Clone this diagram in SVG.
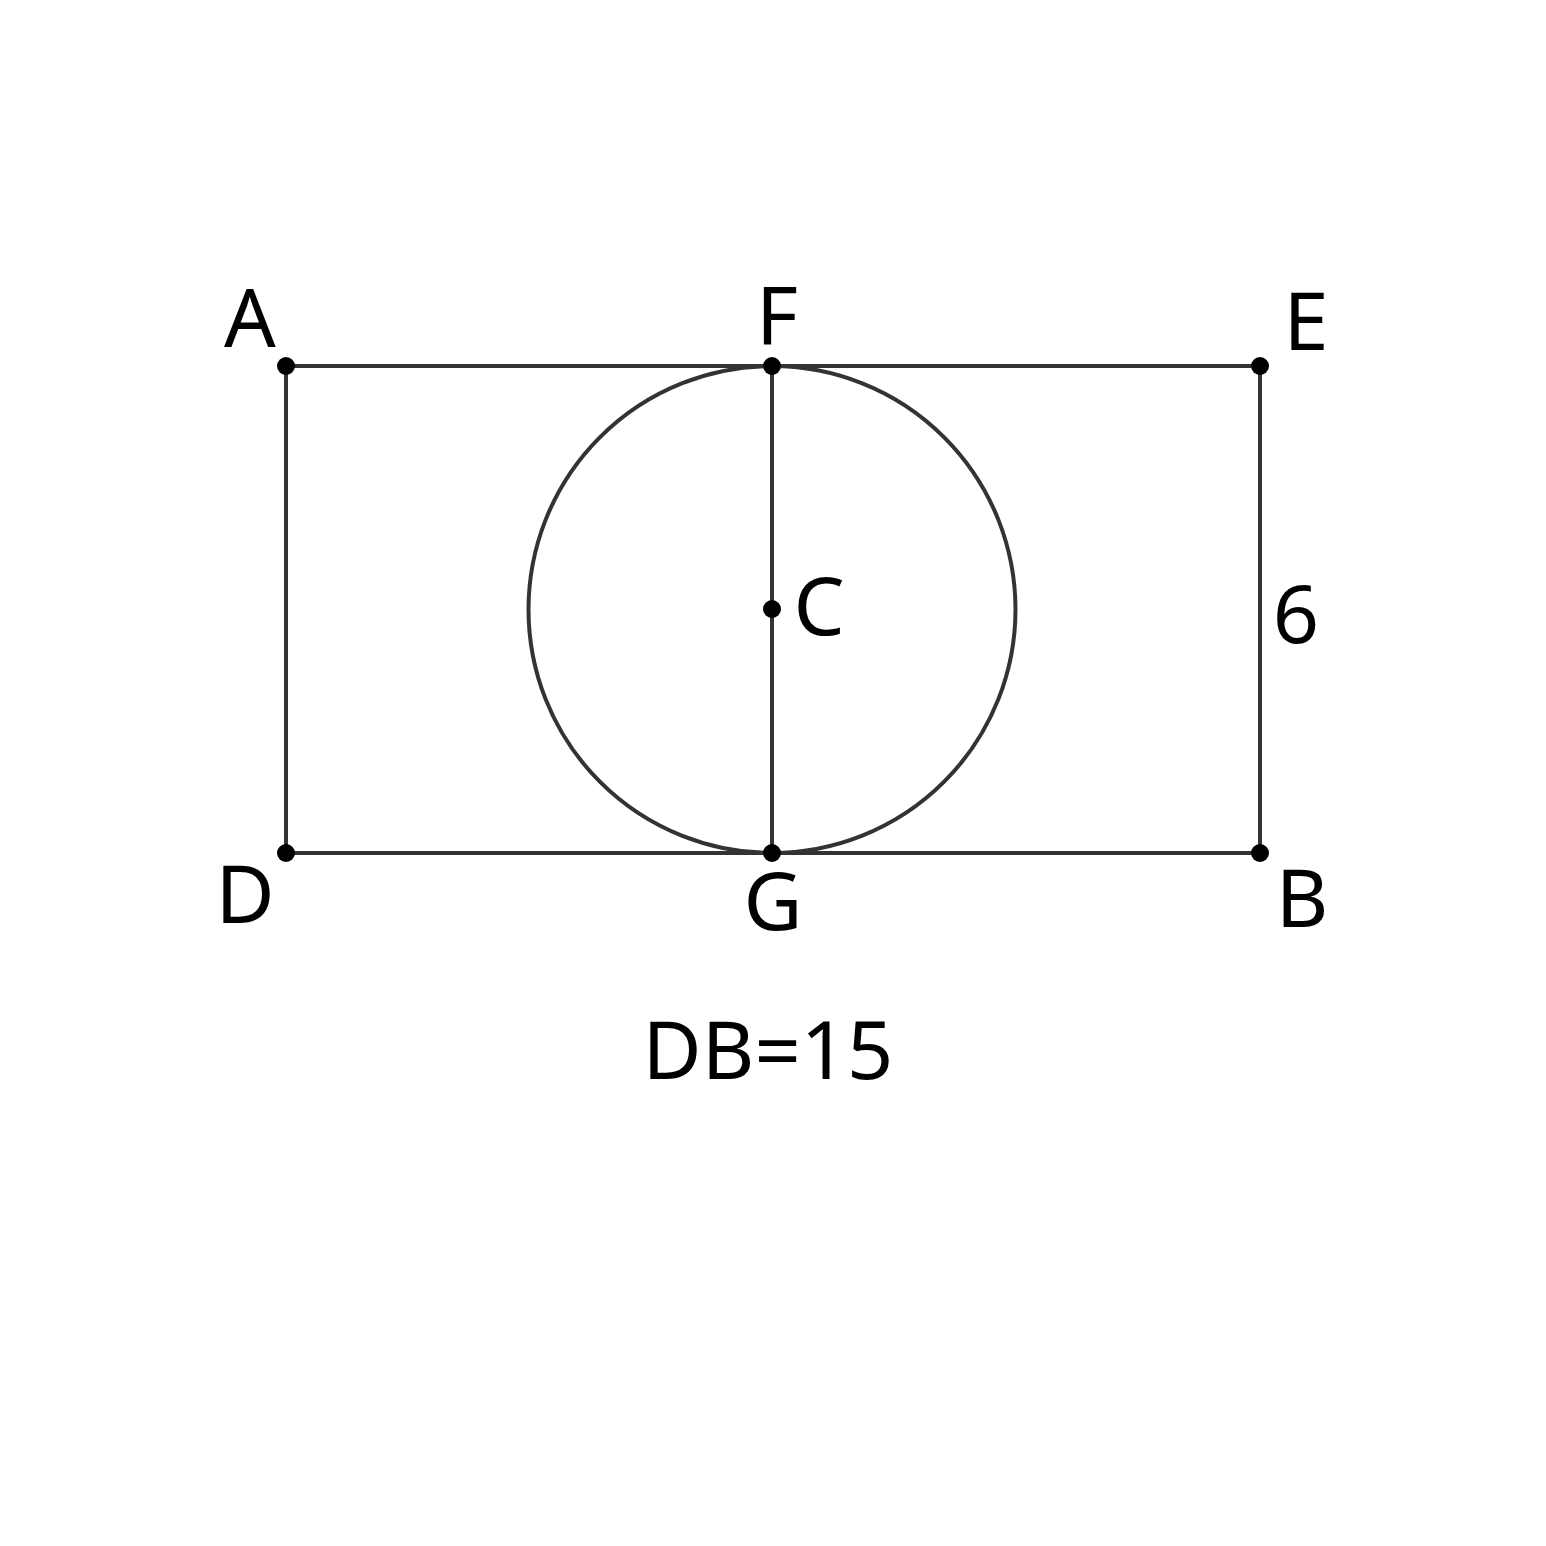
<svg xmlns="http://www.w3.org/2000/svg" width="1546" height="1546" viewBox="0 0 1546 1546">
<style>
.ln{stroke:#333;stroke-width:4;fill:none}
.pt{fill:#000}
.lb{font-family:"Noto Sans","Open Sans","DejaVu Sans",sans-serif;font-size:81px;fill:#000;text-anchor:middle}
</style>
<rect width="1546" height="1546" fill="#fff"/>
<g id="connectors">
<line class="ln" x1="286" y1="366" x2="1260" y2="366"/>
<line class="ln" x1="286" y1="853" x2="1260" y2="853"/>
<line class="ln" x1="286" y1="366" x2="286" y2="853"/>
<line class="ln" x1="1260" y1="366" x2="1260" y2="853"/>
<line class="ln" x1="772" y1="366" x2="772" y2="853"/>
<circle class="ln" cx="772" cy="609.5" r="243.5"/>
</g>
<g id="A"><circle class="pt" cx="286" cy="366" r="9"/><text class="lb" x="250" y="347">A</text></g>
<g id="F"><circle class="pt" cx="772" cy="366" r="9"/><text class="lb" x="777" y="344">F</text></g>
<g id="E"><circle class="pt" cx="1260" cy="366" r="9"/><text class="lb" x="1306" y="350">E</text></g>
<g id="C"><circle class="pt" cx="772" cy="609" r="9"/><text class="lb" x="819" y="635">C</text></g>
<g id="D"><circle class="pt" cx="286" cy="853" r="9"/><text class="lb" x="245" y="923">D</text></g>
<g id="G"><circle class="pt" cx="772" cy="853" r="9"/><text class="lb" x="773" y="930">G</text></g>
<g id="B"><circle class="pt" cx="1260" cy="853" r="9"/><text class="lb" x="1302" y="927">B</text></g>
<text class="lb" x="1296" y="643">6</text>
<text class="lb" x="768" y="1079">DB=15</text>
</svg>
